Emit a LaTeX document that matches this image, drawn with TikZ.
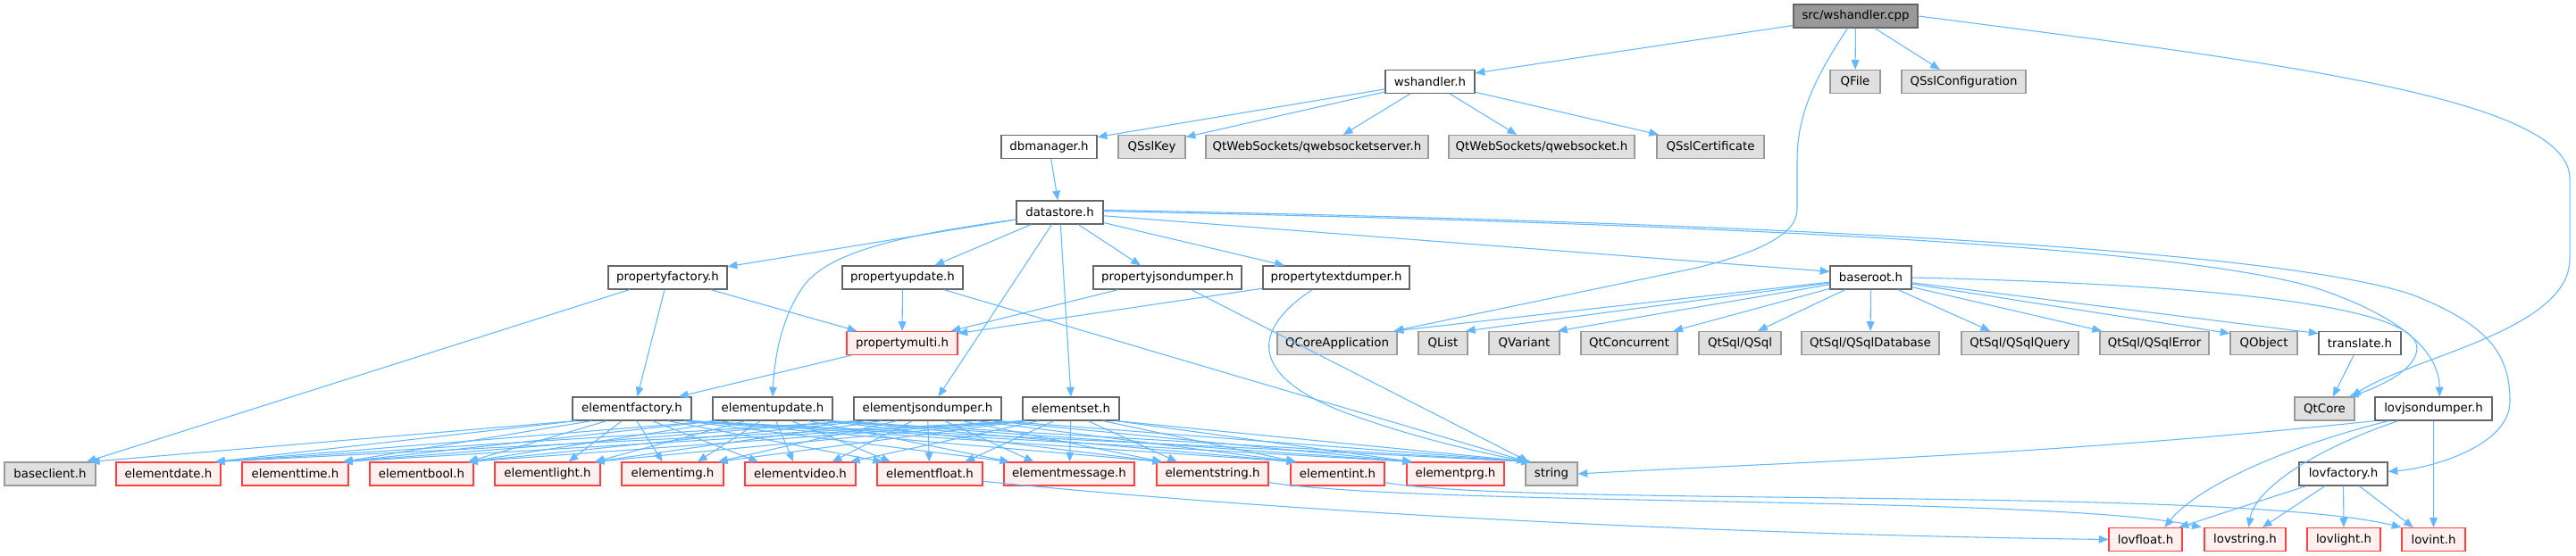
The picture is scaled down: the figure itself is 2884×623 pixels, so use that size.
\documentclass[tikz,border=0pt]{standalone}
\usepackage{fontspec}
\setmainfont{DejaVu Sans}
\usetikzlibrary{arrows.meta,calc}
\definecolor{edgeblue}{HTML}{63B8FF}
\definecolor{nodeborder}{HTML}{666666}
\definecolor{extborder}{HTML}{999999}
\definecolor{extfill}{HTML}{E0E0E0}
\definecolor{redfill}{HTML}{FFF0F0}
\definecolor{redborder}{HTML}{FF4040}
\definecolor{mainfill}{HTML}{999999}
\tikzset{
  boxbase/.style={inner sep=0pt, minimum height=19.5pt, line width=0.9pt, text=black},
  boxstd/.style={boxbase, draw=nodeborder, fill=white},
  boxext/.style={boxbase, draw=extborder, fill=extfill},
  boxred/.style={boxbase, draw=redborder, fill=redfill},
  boxmain/.style={boxbase, draw=nodeborder, fill=mainfill},
  dep/.style={draw=edgeblue, line width=0.8pt, -{Triangle[length=8pt,width=6.5pt]}}
}
\newcommand\mknode[6]{\node[#1, minimum width={(#4-#3)*0.75pt}] (#2) at ({(#3+#4)/2},#5) {#6};}
\newcommand\fanedge[2]{\draw[dep] let \p1=(#1.south), \p4=(#1.south east), \p2=(#2.north), \p3=(#2.north east),
  \n1={\x3-\x2-5pt}, \n2={max(-\n1,min(\n1,(\x1-\x2)*0.25))},
  \n3={\x4-\x1-3pt}, \n4={max(-\n3,min(\n3,(\x2-\x1)*0.12))} in (\x1+\n4,\y1) -- (\x2+\n2,\y2);}
\begin{document}
\begin{tikzpicture}[x=0.75pt,y=-0.75pt, font=\fontsize{10pt}{12pt}\selectfont]
\fill[white] (0,0) rectangle (2884,623);
\useasboundingbox (0,0) rectangle (2884,623);
% row 0
\mknode{boxmain}{cpp}{2008}{2147}{18}{src/wshandler.cpp}
% row 1
\mknode{boxstd}{wsh}{1551}{1651}{91.5}{wshandler.h}
\mknode{boxext}{qfile}{2049}{2105}{91.5}{QFile}
\mknode{boxext}{qsslconf}{2129}{2268}{91.5}{QSslConfiguration}
% row 2
\mknode{boxstd}{dbm}{1121}{1228}{164.5}{dbmanager.h}
\mknode{boxext}{qsslkey}{1252}{1327}{164.5}{QSslKey}
\mknode{boxext}{qwss}{1350}{1599}{164.5}{QtWebSockets/qwebsocketserver.h}
\mknode{boxext}{qws}{1622}{1830}{164.5}{QtWebSockets/qwebsocket.h}
\mknode{boxext}{qsslcert}{1855}{1975}{164.5}{QSslCertificate}
% row 3
\mknode{boxstd}{ds}{1138}{1235}{238}{datastore.h}
% row 4
\mknode{boxstd}{pfactory}{681}{814}{311}{propertyfactory.h}
\mknode{boxstd}{pupdate}{943}{1078}{311}{propertyupdate.h}
\mknode{boxstd}{pjson}{1224}{1390}{311}{propertyjsondumper.h}
\mknode{boxstd}{ptext}{1414}{1578}{311}{propertytextdumper.h}
\mknode{boxstd}{broot}{2049}{2140}{311}{baseroot.h}
% row 5
\mknode{boxred}{pmulti}{948}{1072}{384.5}{propertymulti.h}
\mknode{boxext}{qcoreapp}{1430}{1564}{384.5}{QCoreApplication}
\mknode{boxext}{qlist}{1588}{1643}{384.5}{QList}
\mknode{boxext}{qvariant}{1667}{1746}{384.5}{QVariant}
\mknode{boxext}{qtconc}{1770}{1878}{384.5}{QtConcurrent}
\mknode{boxext}{qsql}{1902}{1994}{384.5}{QtSql/QSql}
\mknode{boxext}{qsqldb}{2017}{2171}{384.5}{QtSql/QSqlDatabase}
\mknode{boxext}{qsqlq}{2196}{2327}{384.5}{QtSql/QSqlQuery}
\mknode{boxext}{qsqlerr}{2351}{2473}{384.5}{QtSql/QSqlError}
\mknode{boxext}{qobject}{2497}{2572}{384.5}{QObject}
\mknode{boxstd}{transl}{2596}{2688}{384.5}{translate.h}
% row 6
\mknode{boxstd}{ef}{641}{774}{458}{elementfactory.h}
\mknode{boxstd}{eu}{798}{932}{458}{elementupdate.h}
\mknode{boxstd}{ej}{956}{1121}{458}{elementjsondumper.h}
\mknode{boxstd}{es}{1145}{1253}{458}{elementset.h}
\mknode{boxext}{qtcore}{2569}{2636}{458}{QtCore}
\mknode{boxstd}{lovjson}{2659}{2790}{458}{lovjsondumper.h}
% row 7
\mknode{boxext}{bclient}{5}{107}{531}{baseclient.h}
\mknode{boxred}{edate}{130}{247}{531}{elementdate.h}
\mknode{boxred}{etime}{271}{390}{531}{elementtime.h}
\mknode{boxred}{ebool}{414}{530}{531}{elementbool.h}
\mknode{boxred}{elight}{554}{672}{531}{elementlight.h}
\mknode{boxred}{eimg}{696}{810}{531}{elementimg.h}
\mknode{boxred}{evideo}{834}{958}{531}{elementvideo.h}
\mknode{boxred}{efloat}{982}{1100}{531}{elementfloat.h}
\mknode{boxred}{emsg}{1124}{1270}{531}{elementmessage.h}
\mknode{boxred}{estring}{1295}{1420}{531}{elementstring.h}
\mknode{boxred}{eint}{1445}{1550}{531}{elementint.h}
\mknode{boxred}{eprg}{1575}{1684}{531}{elementprg.h}
\mknode{boxext}{str}{1708}{1766}{531}{string}
\mknode{boxstd}{lovfac}{2574}{2673}{531}{lovfactory.h}
% row 8
\mknode{boxred}{lovfloat}{2361}{2443}{604.5}{lovfloat.h}
\mknode{boxred}{lovstring}{2468}{2559}{604.5}{lovstring.h}
\mknode{boxred}{lovlight}{2583}{2665}{604.5}{lovlight.h}
\mknode{boxred}{lovint}{2689}{2760}{604.5}{lovint.h}

% ---- edges from src/wshandler.cpp
\draw[dep] (cpp) -- ([yshift=-3pt]wsh.north east);
\draw[dep] (cpp) -- (qfile);
\draw[dep] (cpp) -- ([xshift=-20pt]qsslconf.north);
\draw[dep] ([xshift=-6.75pt]cpp.south) .. controls (2030,90) and (2012,130) .. (2012,180) -- (2012,235)
   .. controls (2012,265) and (1960,285) .. (1900,300) -- ([xshift=-3pt]qcoreapp.north east);
\draw[dep] (cpp.east) .. controls (2550,70) and (2877,110) .. (2877,200) -- (2877,290)
   .. controls (2877,370) and (2700,400) .. ([xshift=-3pt]qtcore.north east);
% ---- wshandler.h
\draw[dep] (wsh) -- ([yshift=-2pt]dbm.north east);
\draw[dep] (wsh) -- ([yshift=-2pt]qsslkey.north east);
\draw[dep] (wsh) -- ([xshift=22pt]qwss.north);
\draw[dep] (wsh) -- ([xshift=-21pt]qws.north);
\draw[dep] (wsh) -- ([xshift=2pt]qsslcert.north west);
% ---- dbmanager.h
\draw[dep] (dbm) -- (ds);
% ---- datastore.h
\draw[dep] (ds) -- ([yshift=-1pt]pfactory.north east);
\draw[dep] ([yshift=-6pt]ds.west) .. controls (1020,262) and (930,280) .. (900,320)
   .. controls (875,355) and (867,400) .. (eu.north);
\draw[dep] (ds) -- ([xshift=27pt]pupdate.north);
\draw[dep] (ds) -- ([xshift=9pt]ej.north);
\draw[dep] (ds) -- (es.north);
\draw[dep] (ds) -- ([xshift=-22.5pt]pjson.north);
\draw[dep] (ds) -- ([xshift=-43.5pt]ptext.north);
\draw[dep] (ds) -- ([yshift=5pt]broot.west);
\draw[dep] ([yshift=1pt]ds.east) .. controls (1900,250) and (2450,275) .. (2600,325)
   .. controls (2700,360) and (2731,400) .. ([xshift=5pt]lovjson.north);
\draw[dep] ([yshift=2pt]ds.east) .. controls (2000,250) and (2550,280) .. (2700,330)
   .. controls (2790,365) and (2810,400) .. (2810,450)
   .. controls (2810,500) and (2720,525) .. ([yshift=2pt]lovfac.east);
% ---- property headers
\draw[dep] (pfactory) -- ([xshift=-8pt]bclient.north east);
\draw[dep] (pfactory) -- ([xshift=4.5pt]ef.north);
\draw[dep] (pfactory) -- ([xshift=9pt]pmulti.north west);
\draw[dep] (pupdate) -- (pmulti);
\draw[dep] (pupdate) -- ([xshift=2pt]str.north west);
\draw[dep] (pjson) -- ([xshift=-6pt]pmulti.north east);
\draw[dep] (pjson) -- ([xshift=3pt]str.north west);
\draw[dep] (ptext) -- ([yshift=-2pt]pmulti.north east);
\draw[dep] ([xshift=-20pt]ptext.south) .. controls (1400,370) and (1400,420) .. (1500,460)
   .. controls (1580,490) and (1650,505) .. ([xshift=1pt]str.north west);
\draw[dep] (pmulti) -- ([xshift=-11pt]ef.north east);
% ---- element fan
\fanedge{ef}{bclient}
\foreach \srcn in {ef,eu,ej,es}{
  \foreach \tgtn in {edate,etime,ebool,elight,eimg,evideo,efloat,emsg,estring,eint,eprg,str}{
    \fanedge{\srcn}{\tgtn}
  }
}
% ---- element -> lov
\draw[dep] ([yshift=4pt]efloat.south east) .. controls (1500,580) and (2000,600) .. (lovfloat.west);
\draw[dep] ([yshift=3pt]estring.south east) .. controls (1600,568) and (2300,555) .. ([xshift=-2pt]lovstring.north west);
\draw[dep] ([yshift=3pt]eint.south east) .. controls (1700,568) and (2500,545) .. (lovint.north west);
% ---- baseroot.h
\draw[dep] (broot) -- ([xshift=-3pt]qcoreapp.north east);
\draw[dep] (broot) -- ([xshift=-2pt]qlist.north east);
\draw[dep] (broot) -- ([xshift=-2pt]qvariant.north east);
\draw[dep] (broot) -- ([xshift=-4pt]qtconc.north east);
\draw[dep] (broot) -- ([xshift=15pt]qsql.north);
\draw[dep] (broot) -- (qsqldb);
\draw[dep] (broot) -- ([xshift=-25pt]qsqlq.north);
\draw[dep] (broot) -- ([xshift=2pt]qsqlerr.north west);
\draw[dep] (broot) -- ([yshift=-2pt]qobject.north west);
\draw[dep] (broot) -- ([yshift=-2pt]transl.north west);
\draw[dep] (broot.east) .. controls (2450,318) and (2706,340) .. (2706,390)
   .. controls (2706,415) and (2660,435) .. ([xshift=-5pt]qtcore.north east);
\draw[dep] (transl) -- ([xshift=7pt]qtcore.north);
% ---- lovjsondumper.h
\draw[dep] (lovjson.south west) .. controls (2300,510) and (2000,518) .. (str.east);
\draw[dep] ([xshift=12pt]lovjson.south west) .. controls (2560,500) and (2460,545) .. ([xshift=16pt]lovfloat.north);
\draw[dep] ([xshift=20pt]lovjson.south west) .. controls (2600,500) and (2525,545) .. ([xshift=3pt]lovstring.north);
\draw[dep] (lovjson) -- (lovint);
% ---- lovfactory.h
\draw[dep] (lovfac) -- ([xshift=-3pt]lovfloat.north east);
\draw[dep] (lovfac) -- ([xshift=-20pt]lovstring.north east);
\draw[dep] (lovfac) -- (lovlight);
\draw[dep] (lovfac) -- ([xshift=10pt]lovint.north west);
\end{tikzpicture}
\end{document}
